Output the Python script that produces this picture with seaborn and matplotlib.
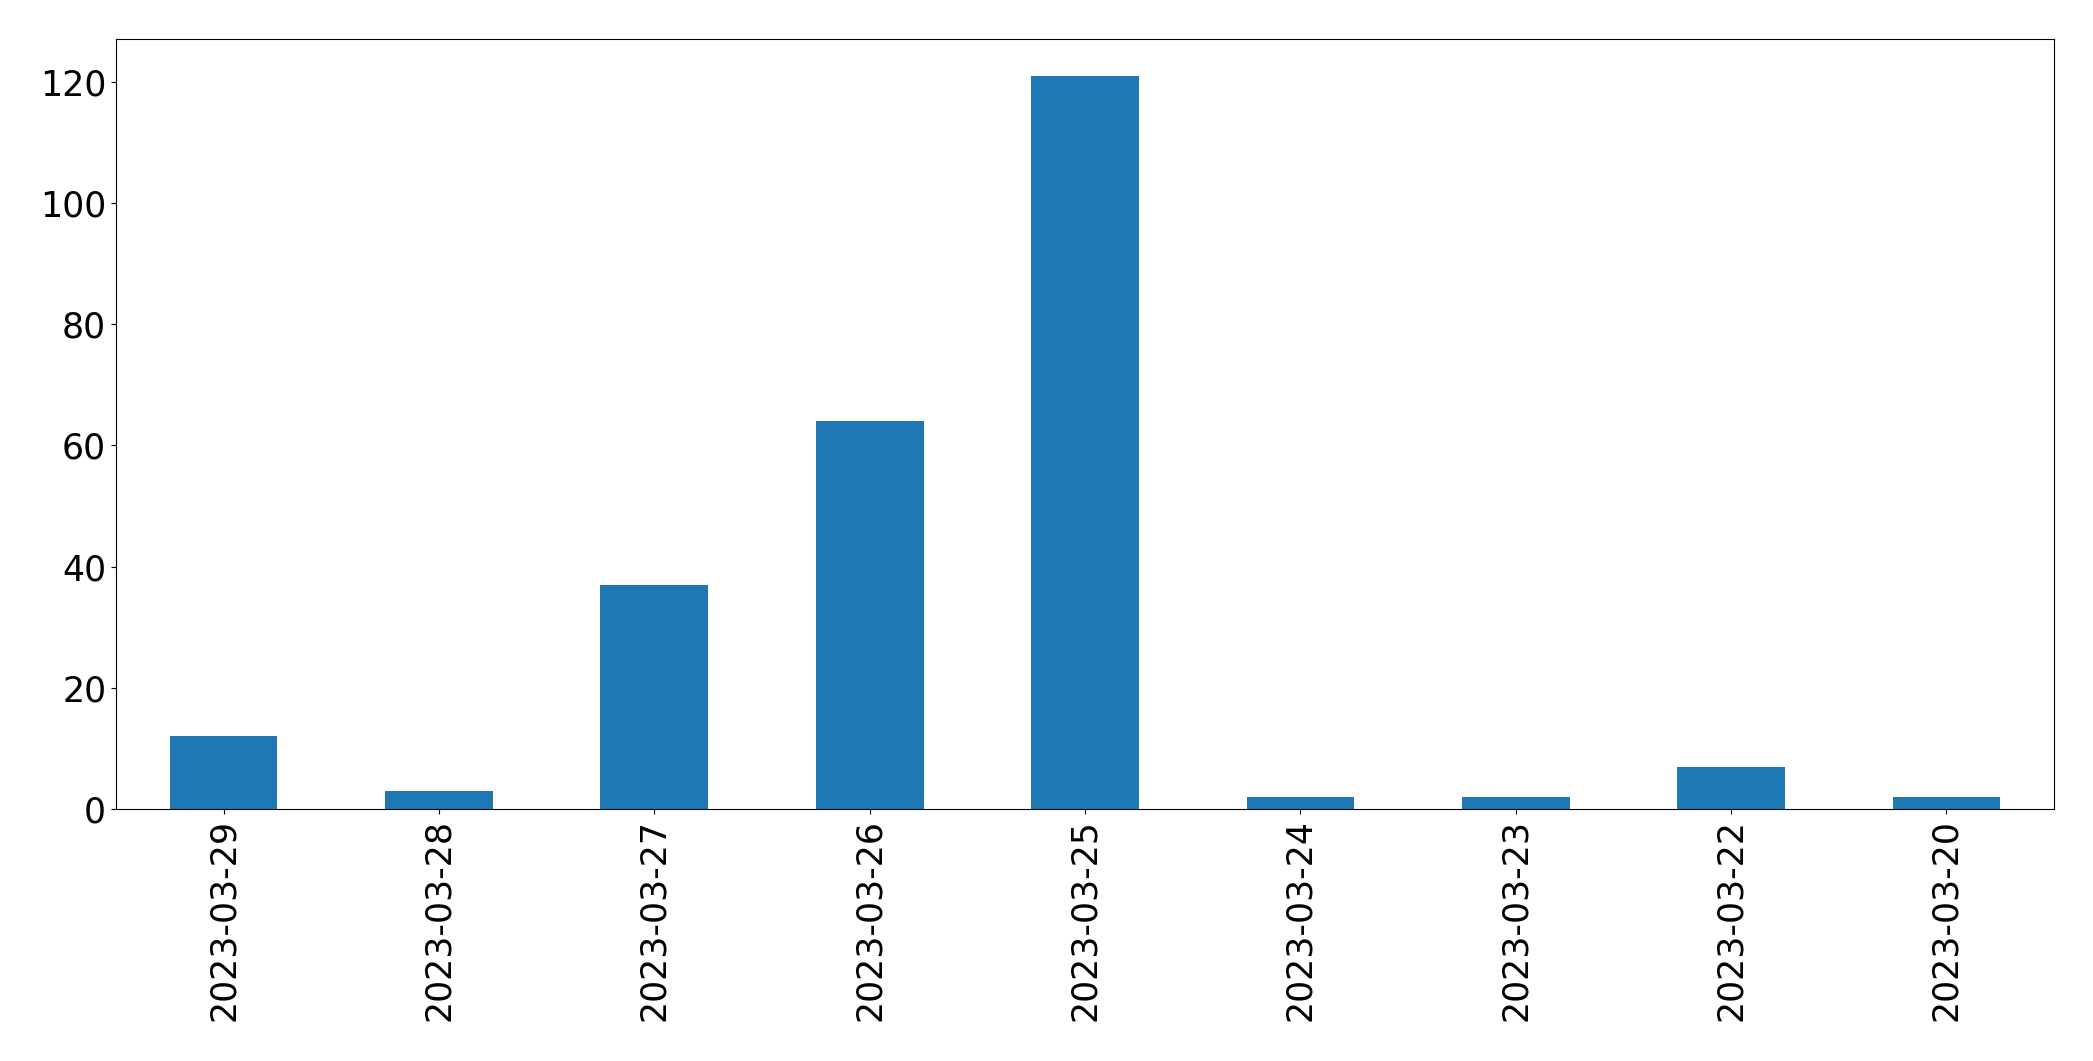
import matplotlib
matplotlib.use("Agg")
import matplotlib.pyplot as plt
import pandas as pd
import seaborn as sns

# Daily counts, in the order shown on the chart
DATES = [
    "2023-03-29", "2023-03-28", "2023-03-27", "2023-03-26", "2023-03-25",
    "2023-03-24", "2023-03-23", "2023-03-22", "2023-03-20",
]
COUNTS = [12, 3, 37, 64, 121, 2, 2, 7, 2]

df = pd.DataFrame({"date": DATES, "count": COUNTS})

fig, ax = plt.subplots(figsize=(20.93, 10.61), dpi=100)
fig.subplots_adjust(left=0.0554, right=0.9814, top=0.963, bottom=0.2375)

sns.barplot(
    data=df,
    x="date",
    y="count",
    order=DATES,
    color="#1f77b4",
    saturation=1,
    width=0.5,
    ax=ax,
)

ax.set_xlim(-0.5, len(DATES) - 0.5)
ax.set_ylim(0, max(COUNTS) * 1.05)
ax.set_xlabel("")
ax.set_ylabel("")
ax.tick_params(axis="both", labelsize=25)
ax.tick_params(axis="x", labelrotation=90)

fig.savefig("out.png", dpi=100)
